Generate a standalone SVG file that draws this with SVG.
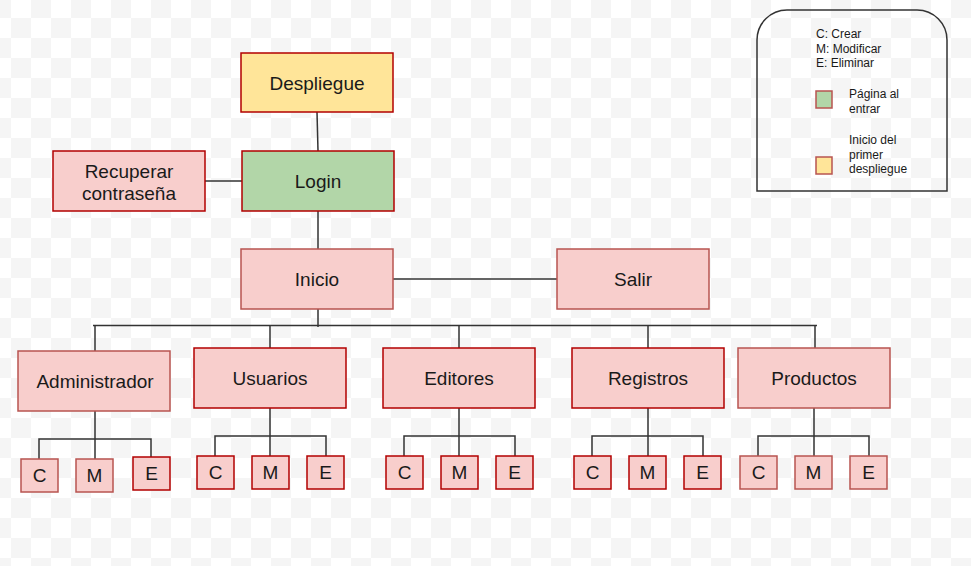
<svg xmlns="http://www.w3.org/2000/svg" width="971" height="566" viewBox="0 0 971 566">
<defs>
<pattern id="chk" patternUnits="userSpaceOnUse" x="11" y="18" width="40" height="40">
<rect width="40" height="40" fill="#ffffff"/>
<rect x="0" y="0" width="20" height="20" fill="#f5f5f5"/>
<rect x="20" y="20" width="20" height="20" fill="#f5f5f5"/>
</pattern>
<style>
.n{fill:#f8cecc;stroke:#b85450;stroke-width:1.5}
.d{stroke:#b20000}
.y{fill:#ffe599;stroke:#b20000;stroke-width:1.5}
.g{fill:#b2d6a8;stroke:#b20000;stroke-width:1.5}
.t{font-family:"Liberation Sans",Arial,sans-serif;font-size:19px;fill:#1a1a1a;text-anchor:middle}
.l{font-family:"Liberation Sans",Arial,sans-serif;font-size:12px;fill:#1a1a1a}
.c{fill:none;stroke:#333333;stroke-width:1.5}
</style>
</defs>
<rect width="971" height="566" fill="url(#chk)"/>

<g id="connectors" class="c">
<path d="M317 112 L318 151"/>
<path d="M318 211 V249"/>
<path d="M205 181 H242"/>
<path d="M393 279 H557"/>
<path d="M318 309 V327"/>
<path d="M93 325.5 H817"/>
<path d="M95 325.5 V351"/>
<path d="M270 325.5 V348"/>
<path d="M459 325.5 V348"/>
<path d="M648 325.5 V348"/>
<path d="M815 325.5 V348"/>
<path d="M95 411 V459 M39 459 V439 H151 V457"/>
<path d="M270 408 V456 M215 456 V436 H326 V456"/>
<path d="M459 408 V456 M404 456 V436 H515 V456"/>
<path d="M648 408 V456 M592 456 V436 H703 V456"/>
<path d="M814 408 V456 M758 456 V436 H869 V456"/>
</g>

<g id="despliegue"><rect class="y" x="241" y="53" width="152" height="59"/><text class="t" x="317" y="89.5">Despliegue</text></g>
<g id="login"><rect class="g" x="242" y="151" width="152" height="60"/><text class="t" x="318" y="188">Login</text></g>
<g id="recuperar"><rect class="n d" x="53" y="151" width="152" height="60"/><text class="t" x="129" y="178">Recuperar</text><text class="t" x="129" y="200">contraseña</text></g>
<g id="inicio"><rect class="n" x="241" y="249" width="152" height="60"/><text class="t" x="317" y="286">Inicio</text></g>
<g id="salir"><rect class="n" x="557" y="249" width="152" height="60"/><text class="t" x="633" y="286">Salir</text></g>

<g id="administrador"><rect class="n" x="18" y="351" width="152" height="60"/><text class="t" x="95" y="388">Administrador</text></g>
<g id="usuarios"><rect class="n d" x="194" y="348" width="152" height="60"/><text class="t" x="270" y="385">Usuarios</text></g>
<g id="editores"><rect class="n d" x="383" y="348" width="152" height="60"/><text class="t" x="459" y="385">Editores</text></g>
<g id="registros"><rect class="n d" x="572" y="348" width="152" height="60"/><text class="t" x="648" y="385">Registros</text></g>
<g id="productos"><rect class="n" x="738" y="348" width="152" height="60"/><text class="t" x="814" y="385">Productos</text></g>

<g id="admin-c"><rect class="n" x="21" y="459" width="37" height="33"/><text class="t" x="39.5" y="482">C</text></g>
<g id="admin-m"><rect class="n" x="76" y="459" width="37" height="33"/><text class="t" x="94.5" y="482">M</text></g>
<g id="admin-e"><rect class="n d" x="133" y="457" width="37" height="33"/><text class="t" x="151.5" y="480">E</text></g>

<g id="usu-c"><rect class="n d" x="197" y="456" width="37" height="33"/><text class="t" x="215.5" y="479">C</text></g>
<g id="usu-m"><rect class="n d" x="252" y="456" width="37" height="33"/><text class="t" x="270.5" y="479">M</text></g>
<g id="usu-e"><rect class="n d" x="307" y="456" width="37" height="33"/><text class="t" x="325.5" y="479">E</text></g>

<g id="edi-c"><rect class="n d" x="386" y="456" width="37" height="33"/><text class="t" x="404.5" y="479">C</text></g>
<g id="edi-m"><rect class="n d" x="441" y="456" width="37" height="33"/><text class="t" x="459.5" y="479">M</text></g>
<g id="edi-e"><rect class="n d" x="496" y="456" width="37" height="33"/><text class="t" x="514.5" y="479">E</text></g>

<g id="reg-c"><rect class="n d" x="574" y="456" width="37" height="33"/><text class="t" x="592.5" y="479">C</text></g>
<g id="reg-m"><rect class="n d" x="629" y="456" width="37" height="33"/><text class="t" x="647.5" y="479">M</text></g>
<g id="reg-e"><rect class="n d" x="684" y="456" width="37" height="33"/><text class="t" x="702.5" y="479">E</text></g>

<g id="pro-c"><rect class="n" x="740" y="456" width="37" height="33"/><text class="t" x="758.5" y="479">C</text></g>
<g id="pro-m"><rect class="n" x="795" y="456" width="37" height="33"/><text class="t" x="813.5" y="479">M</text></g>
<g id="pro-e"><rect class="n" x="850" y="456" width="37" height="33"/><text class="t" x="868.5" y="479">E</text></g>

<g id="leyenda">
<path d="M757 191 V40 A30 30 0 0 1 787 10 H917 A30 30 0 0 1 947 40 V191 Z" fill="none" stroke="#333333" stroke-width="1.5"/>
<text class="l" x="816" y="38">C: Crear</text>
<text class="l" x="816" y="52.5">M: Modificar</text>
<text class="l" x="816" y="67">E: Eliminar</text>
<rect x="816" y="91" width="16" height="17" fill="#b2d6a8" stroke="#b85450" stroke-width="1.5"/>
<text class="l" x="849" y="98">Página al</text>
<text class="l" x="849" y="112.5">entrar</text>
<rect x="816" y="157" width="16" height="17" fill="#ffe599" stroke="#b85450" stroke-width="1.5"/>
<text class="l" x="849" y="144">Inicio del</text>
<text class="l" x="849" y="158.5">primer</text>
<text class="l" x="849" y="173">despliegue</text>
</g>
</svg>
